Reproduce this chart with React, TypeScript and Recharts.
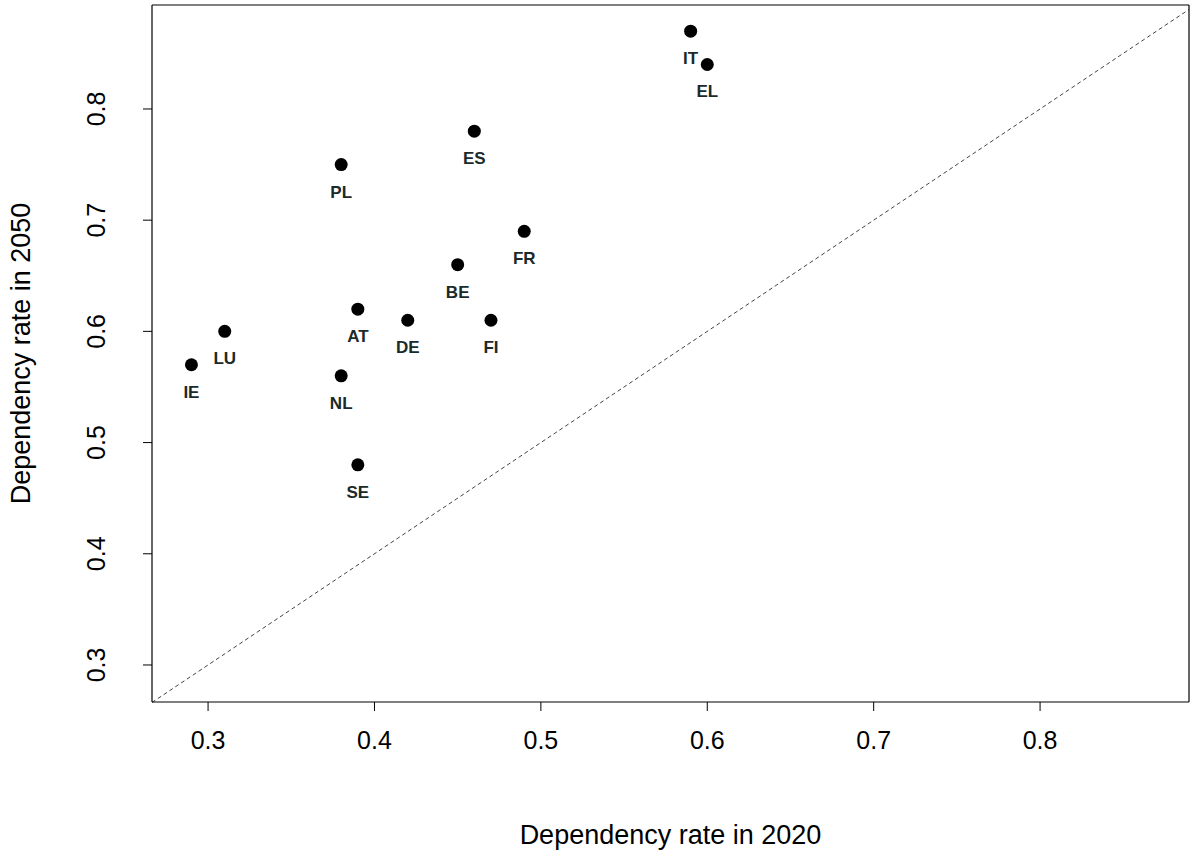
import React from 'react';
import { ScatterChart, Scatter, XAxis, YAxis, ReferenceLine } from 'recharts';

const countries = ['IT', 'EL', 'ES', 'PL', 'FR', 'BE', 'AT', 'DE', 'FI', 'LU', 'IE', 'NL', 'SE'];
const rate2020 = [0.59, 0.60, 0.46, 0.38, 0.49, 0.45, 0.39, 0.42, 0.47, 0.31, 0.29, 0.38, 0.39];
const rate2050 = [0.87, 0.84, 0.78, 0.75, 0.69, 0.66, 0.62, 0.61, 0.61, 0.60, 0.57, 0.56, 0.48];
const xTicks = [0.3, 0.4, 0.5, 0.6, 0.7, 0.8];
const yTicks = [0.3, 0.4, 0.5, 0.6, 0.7, 0.8];

const data = countries.map((c, i) => ({ name: c, x: rate2020[i], y: rate2050[i] }));
const xDom: [number, number] = [0.2663, 0.8895];
const yDom: [number, number] = [0.2667, 0.8935];
const font = '"Liberation Sans", Arial, sans-serif';

const Point = (props: any) => {
  const { cx, cy, payload } = props;
  return (
    <g>
      <circle cx={cx} cy={cy} r={6.5} fill="#000" />
      <text x={cx} y={cy + 33} textAnchor="middle" fontSize={17} fontWeight={600} fill="#1a2a2a" fontFamily={font}>
        {payload.name}
      </text>
    </g>
  );
};

const YTick = (props: any) => {
  const { x, y, payload } = props;
  return (
    <text x={x} y={y} transform={`rotate(-90 ${x - 36} ${y})`} dx={-36} textAnchor="middle" fontSize={25} fill="#000" fontFamily={font}>
      {payload.value}
    </text>
  );
};

export default function App() {
  const box = { stroke: '#000', strokeWidth: 1.2 };
  return (
    <div style={{ position: 'absolute', left: 0, top: 0, background: '#fff' }}>
      <ScatterChart width={1200} height={858} margin={{ top: 5, right: 11, left: 0, bottom: 0 }}>
        <XAxis
          type="number"
          dataKey="x"
          domain={xDom}
          ticks={xTicks}
          allowDataOverflow
          height={156}
          axisLine={false}
          tickSize={9}
          tickLine={{ stroke: '#000' }}
          tick={{ fontSize: 25, fill: '#000', fontFamily: font, dy: 18 }}
          label={{ value: 'Dependency rate in 2020', position: 'insideBottom', offset: 14, fontSize: 27, fill: '#000', fontFamily: font }}
        />
        <YAxis
          type="number"
          dataKey="y"
          domain={yDom}
          ticks={yTicks}
          allowDataOverflow
          width={152}
          axisLine={false}
          tickSize={9}
          tickLine={{ stroke: '#000' }}
          tick={<YTick />}
          label={{ value: 'Dependency rate in 2050', angle: -90, position: 'insideLeft', offset: 20, fontSize: 27, fill: '#000', fontFamily: font, style: { textAnchor: 'middle' } }}
        />
        <ReferenceLine segment={[{ x: xDom[0], y: xDom[0] }, { x: xDom[1], y: xDom[1] }]} stroke="#444" strokeDasharray="4 3" ifOverflow="visible" />
        <ReferenceLine x={xDom[0]} {...box} />
        <ReferenceLine x={xDom[1]} {...box} />
        <ReferenceLine y={yDom[0]} {...box} />
        <ReferenceLine y={yDom[1]} {...box} />
        <Scatter data={data} shape={<Point />} isAnimationActive={false} />
      </ScatterChart>
    </div>
  );
}
